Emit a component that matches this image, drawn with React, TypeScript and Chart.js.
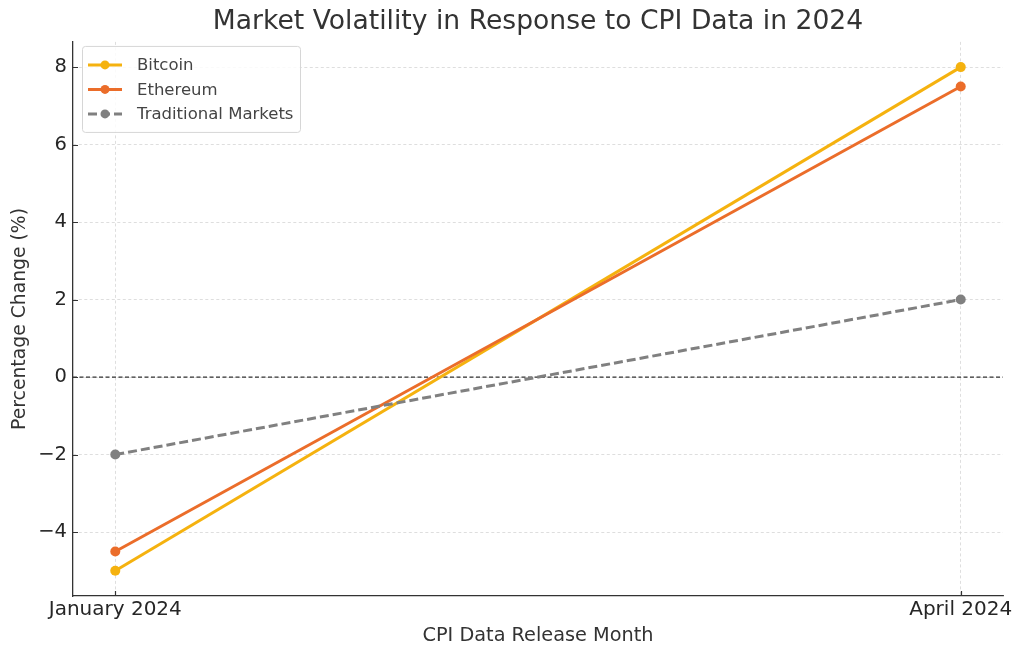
import React, { useEffect, useRef } from "react";
import { Chart, registerables } from "chart.js";

Chart.register(...registerables);

const categories = ["January 2024", "April 2024"];
const bitcoin = [-5, 8];
const ethereum = [-4.5, 7.5];
const traditional = [-2, 2];
const yTicks = [-4, -2, 0, 2, 4, 6, 8];

const FONT = "'DejaVu Sans', 'Liberation Sans', sans-serif";

const seriesNames = ["Bitcoin", "Ethereum", "Traditional Markets"];
const seriesColors = ["#F5B20F", "#EB6D2A", "#808080"];
const seriesDash = [[], [], [9, 4]];

const zeroLinePlugin = {
  id: "zeroLine",
  beforeDatasetsDraw(chart: any) {
    const { ctx, chartArea, scales } = chart;
    const y = scales.y.getPixelForValue(0);
    ctx.save();
    ctx.strokeStyle = "#333333";
    ctx.lineWidth = 1.2;
    ctx.setLineDash([4, 2.5]);
    ctx.beginPath();
    ctx.moveTo(chartArea.left, y);
    ctx.lineTo(chartArea.right, y);
    ctx.stroke();
    ctx.restore();
  },
};

const innerTicksPlugin = {
  id: "innerTicks",
  afterDraw(chart: any) {
    const { ctx, chartArea, scales } = chart;
    ctx.save();
    ctx.strokeStyle = "#333333";
    ctx.lineWidth = 1.2;
    ctx.setLineDash([]);
    ctx.beginPath();
    scales.y.ticks.forEach((t: any) => {
      const y = Math.round(scales.y.getPixelForValue(t.value)) + 0.5;
      ctx.moveTo(chartArea.left, y);
      ctx.lineTo(chartArea.left + 5, y);
    });
    scales.x.ticks.forEach((t: any) => {
      const x = Math.round(scales.x.getPixelForValue(t.value)) + 0.5;
      ctx.moveTo(x, chartArea.bottom);
      ctx.lineTo(x, chartArea.bottom - 5);
    });
    ctx.stroke();
    ctx.restore();
  },
};

const legendPlugin = {
  id: "innerLegend",
  afterDatasetsDraw(chart: any) {
    const { ctx, chartArea } = chart;
    const x0 = chartArea.left + 9;
    const y0 = chartArea.top + 4;
    const w = 218;
    const h = 86;
    ctx.save();
    ctx.fillStyle = "rgba(255,255,255,0.85)";
    ctx.strokeStyle = "#d6d6d6";
    ctx.lineWidth = 1;
    ctx.beginPath();
    (ctx as any).roundRect(x0 + 0.5, y0 + 0.5, w, h, 3);
    ctx.fill();
    ctx.stroke();
    ctx.font = `16.5px ${FONT}`;
    ctx.textBaseline = "middle";
    ctx.textAlign = "left";
    seriesNames.forEach((name, i) => {
      const cy = y0 + 19 + i * 24.5;
      ctx.strokeStyle = seriesColors[i];
      ctx.lineWidth = 3;
      ctx.setLineDash(seriesDash[i]);
      ctx.beginPath();
      ctx.moveTo(x0 + 6, cy);
      ctx.lineTo(x0 + 40, cy);
      ctx.stroke();
      ctx.setLineDash([]);
      ctx.fillStyle = seriesColors[i];
      ctx.beginPath();
      ctx.arc(x0 + 23, cy, 4.5, 0, Math.PI * 2);
      ctx.fill();
      ctx.fillStyle = "#444444";
      ctx.fillText(name, x0 + 55, cy + 1);
    });
    ctx.restore();
  },
};

export default function App() {
  const ref = useRef<HTMLCanvasElement | null>(null);

  useEffect(() => {
    if (!ref.current) return;
    const series = [bitcoin, ethereum, traditional];
    const chart = new Chart(ref.current, {
      type: "line",
      data: {
        datasets: series.map((vals, i) => ({
          label: seriesNames[i],
          data: vals.map((v, j) => ({ x: j, y: v })),
          borderColor: seriesColors[i],
          backgroundColor: seriesColors[i],
          borderWidth: 3,
          borderDash: seriesDash[i],
          pointRadius: 5,
          pointHoverRadius: 5,
          pointBorderWidth: 0,
          tension: 0,
          fill: false,
          order: 2 - i,
        })),
      },
      options: {
        animation: false,
        responsive: false,
        layout: { padding: { left: 0, right: 21, top: 0, bottom: 0 } },
        plugins: {
          legend: { display: false },
          tooltip: { enabled: false },
          title: {
            display: true,
            fullSize: false,
            text: "Market Volatility in Response to CPI Data in 2024",
            color: "#333333",
            font: { family: FONT, size: 26.6, weight: "normal" },
            padding: { top: 6, bottom: 4 },
          },
        },
        scales: {
          x: {
            type: "linear",
            min: -0.05,
            max: 1.05,
            afterBuildTicks(scale: any) {
              scale.ticks = categories.map((_, i) => ({ value: i }));
            },
            afterFit(scale: any) {
              scale.height = 64;
            },
            ticks: {
              callback: (v: any) => categories[Math.round(Number(v))] ?? "",
              color: "#262626",
              font: { family: FONT, size: 20 },
              padding: 2,
              maxRotation: 0,
              autoSkip: false,
            },
            grid: {
              color: "#d5d5d5",
              lineWidth: 0.8,
              drawTicks: false,
            },
            border: { display: true, color: "#333333", width: 1.3, dash: [3, 2.5] },
            title: {
              display: true,
              text: "CPI Data Release Month",
              color: "#333333",
              font: { family: FONT, size: 19.3 },
              padding: { top: 0, bottom: 12 },
            },
          },
          y: {
            type: "linear",
            min: -5.65,
            max: 8.65,
            afterBuildTicks(scale: any) {
              scale.ticks = yTicks.map((v) => ({ value: v }));
            },
            afterFit(scale: any) {
              scale.width = 73;
            },
            ticks: {
              callback: (v: any) => String(v).replace("-", "\u2212"),
              color: "#262626",
              font: { family: FONT, size: 19.5 },
              padding: 6,
            },
            grid: {
              color: "#d5d5d5",
              lineWidth: 0.8,
              drawTicks: false,
            },
            border: { display: true, color: "#333333", width: 1.3, dash: [3, 2.5] },
            title: {
              display: true,
              text: "Percentage Change (%)",
              color: "#333333",
              font: { family: FONT, size: 18.8 },
              padding: { top: 9, bottom: 0 },
            },
          },
        },
      },
      plugins: [zeroLinePlugin, legendPlugin, innerTicksPlugin],
    } as any);
    return () => chart.destroy();
  }, []);

  return (
    <div style={{ position: "absolute", left: 0, top: 0, width: 1024, height: 660, background: "#fff" }}>
      <canvas ref={ref} width={1024} height={660} style={{ display: "block" }} />
    </div>
  );
}
